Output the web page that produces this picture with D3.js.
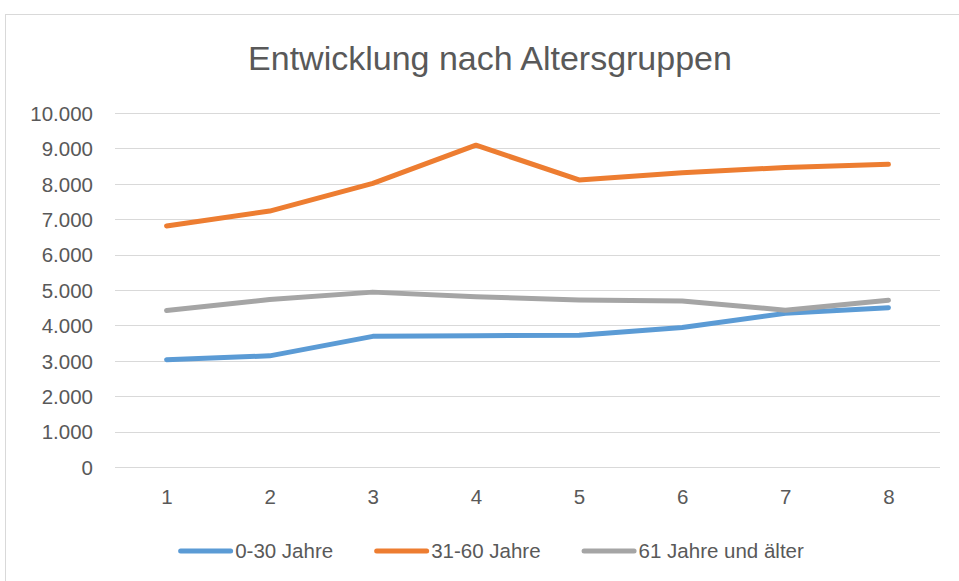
<!DOCTYPE html>
<html>
<head>
<meta charset="utf-8">
<script src="https://cdn.jsdelivr.net/npm/d3@7"></script>
<style>
    body { margin: 0; background: #fff; }
    svg text { font-family: "Liberation Sans", Arial, sans-serif; fill: #595959; }
</style>
</head>
<body>
<div id="chart"></div>
<script>
// Chart data
var categories = [1, 2, 3, 4, 5, 6, 7, 8];
var jung = [3030, 3140, 3690, 3710, 3720, 3940, 4340, 4500];      // 0-30 Jahre
var mittel = [6810, 7230, 8010, 9090, 8110, 8310, 8460, 8550];    // 31-60 Jahre
var alt = [4420, 4730, 4940, 4810, 4720, 4690, 4430, 4710];       // 61 Jahre und älter
var seriesNames = ["0-30 Jahre", "31-60 Jahre", "61 Jahre und älter"];
var yTicks = [0, 1000, 2000, 3000, 4000, 5000, 6000, 7000, 8000, 9000, 10000];
var title = "Entwicklung nach Altersgruppen";

function init() {
    var w = 959;
    var h = 581;
    var colors = ["#5B9BD5", "#ED7D31", "#A5A5A5"];
    var series = [jung, mittel, alt];

    // German number format (10.000)
    var de = d3.formatLocale({ decimal: ",", thousands: ".", grouping: [3], currency: ["", " €"] });
    var fmt = de.format(",");

    var svg = d3.select("#chart")
        .append("svg")
        .attr("width", w)
        .attr("height", h);

    // chart frame (runs past the window on the right and bottom)
    svg.append("rect")
        .attr("x", 5.5)
        .attr("y", 14.5)
        .attr("width", 1000)
        .attr("height", 600)
        .attr("fill", "#fff")
        .attr("stroke", "#D9D9D9");

    var xScale = d3.scalePoint()
        .domain(categories)
        .range([115, 940])
        .padding(0.5);

    var yScale = d3.scaleLinear()
        .domain([0, 10000])
        .range([467, 113]);

    // gridlines
    svg.selectAll("line.grid")
        .data(yTicks)
        .enter()
        .append("line")
        .attr("class", "grid")
        .attr("x1", 115)
        .attr("x2", 940)
        .attr("y1", function(d) { return Math.round(yScale(d)) + 0.5; })
        .attr("y2", function(d) { return Math.round(yScale(d)) + 0.5; })
        .attr("stroke", "#D9D9D9")
        .attr("stroke-width", 1);

    // y axis labels
    var yAxis = d3.axisLeft(yScale)
        .tickValues(yTicks)
        .tickFormat(fmt)
        .tickSize(0)
        .tickPadding(0);
    var gy = svg.append("g")
        .attr("transform", "translate(93,0)")
        .call(yAxis);
    gy.select(".domain").remove();
    gy.selectAll("text")
        .attr("font-size", 20.5)
        .attr("fill", "#595959")
        .attr("dy", "0.36em")
        .style("font-family", "'Liberation Sans', Arial, sans-serif");

    // x axis labels
    var xAxis = d3.axisBottom(xScale)
        .tickSize(0)
        .tickPadding(0);
    var gx = svg.append("g")
        .attr("transform", "translate(0,497)")
        .call(xAxis);
    gx.select(".domain").remove();
    gx.selectAll("text")
        .attr("y", 0)
        .attr("dy", "0.36em")
        .attr("font-size", 20.5)
        .attr("fill", "#595959")
        .style("font-family", "'Liberation Sans', Arial, sans-serif");

    // lines
    var line = d3.line()
        .x(function(d, i) { return xScale(categories[i]); })
        .y(function(d) { return yScale(d); });

    svg.selectAll("path.series")
        .data(series)
        .enter()
        .append("path")
        .attr("class", "series")
        .attr("d", line)
        .attr("fill", "none")
        .attr("stroke", function(d, i) { return colors[i]; })
        .attr("stroke-width", 5)
        .attr("stroke-linecap", "round")
        .attr("stroke-linejoin", "round");

    // title
    svg.append("text")
        .attr("x", 490)
        .attr("y", 58)
        .attr("dy", "0.36em")
        .attr("text-anchor", "middle")
        .attr("font-size", 34)
        .text(title);

    // legend
    var legend = svg.append("g");
    var lx = 0;
    var gap = 41;
    seriesNames.forEach(function(name, i) {
        var g = legend.append("g").attr("transform", "translate(" + lx + ",0)");
        g.append("line")
            .attr("x1", 2.5).attr("x2", 52.5)
            .attr("y1", 0).attr("y2", 0)
            .attr("stroke", colors[i])
            .attr("stroke-width", 5)
            .attr("stroke-linecap", "round");
        var t = g.append("text")
            .attr("x", 57)
            .attr("dy", "0.36em")
            .attr("font-size", 20.5)
            .text(name);
        lx += 57 + t.node().getComputedTextLength() + gap;
    });
    var legendWidth = lx - gap;
    legend.attr("transform", "translate(" + (491 - legendWidth / 2) + ",551)");
}

window.onload = init;
</script>
</body>
</html>
